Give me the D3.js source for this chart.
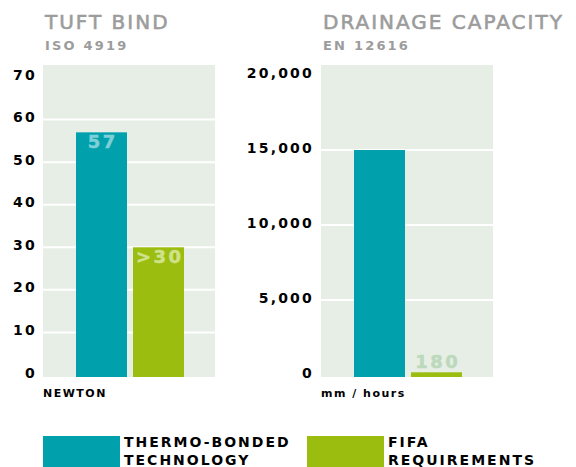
<!DOCTYPE html>
<html>
<head>
<meta charset="utf-8">
<script src="https://cdn.jsdelivr.net/npm/d3@7"></script>
<style>
  body { margin: 0; background: #fff; }
  svg { display: block; font-family: "DejaVu Sans", sans-serif; }
</style>
</head>
<body>
<script>
// Data
const seriesNames = ["THERMO-BONDED TECHNOLOGY", "FIFA REQUIREMENTS"];
const titles = ["TUFT BIND", "DRAINAGE CAPACITY"];
const standards = ["ISO 4919", "EN 12616"];
const units = ["NEWTON", "mm / hours"];
const tuftValues = [57, 30];
const tuftLabels = ["57", ">30"];
const tuftTicks = [0, 10, 20, 30, 40, 50, 60, 70];
const drainValues = [15000, 180];
const drainLabels = [null, "180"];
const drainTicks = [0, 5000, 10000, 15000, 20000];

//   Parameters
const w = 576;
const h = 467;
const colors = ["#00a0ad", "#9bbd10"];
const labelColors = ["#7fcfd6", "#cfe28b"];

const svg = d3
  .select("body")
  .append("svg")
  .attr("width", w)
  .attr("height", h);

const panels = [
  {
    title: titles[0],
    standard: standards[0],
    unit: units[0],
    values: tuftValues,
    labels: tuftLabels,
    ticks: tuftTicks,
    fmt: d3.format("d"),
    bars: [76, 184],
    top: 77,
    axisX: 37,
  },
  {
    title: titles[1],
    standard: standards[1],
    unit: units[1],
    values: drainValues,
    labels: drainLabels,
    ticks: drainTicks,
    fmt: d3.format(","),
    bars: [354, 462],
    top: 75,
    axisX: 314,
  },
];

const baseY = 375;
const panelTop = 65;
const panelBottom = 377;

panels.forEach((p) => {
  const g = svg.append("g");

  const xScale = d3
    .scaleBand()
    .domain(seriesNames)
    .range(p.bars)
    .paddingInner(6 / 57);

  const yScale = d3
    .scaleLinear()
    .domain([0, d3.max(p.ticks)])
    .range([baseY, p.top]);

  const left = p.bars[0] - 33;
  const right = p.bars[1] + 31;

  //   Titles
  g.append("text")
    .attr("x", left + 2)
    .attr("y", 29)
    .attr("fill", "#9c9c9c")
    .attr("stroke", "#9c9c9c")
    .attr("stroke-width", 0.6)
    .attr("font-size", 20)
    .attr("letter-spacing", 2)
    .text(p.title);

  g.append("text")
    .attr("x", left + 2)
    .attr("y", 50)
    .attr("fill", "#9c9c9c")
    .attr("font-size", 13)
    .attr("font-weight", "bold")
    .attr("letter-spacing", 2.2)
    .text(p.standard);

  //   Background
  g.append("rect")
    .attr("x", left)
    .attr("y", panelTop)
    .attr("width", right - left)
    .attr("height", panelBottom - panelTop)
    .attr("fill", "#e7eee6");

  //   Grid
  g.selectAll(".grid")
    .data(p.ticks.slice(1, -1))
    .enter()
    .append("line")
    .attr("x1", left)
    .attr("x2", right)
    .attr("y1", (d) => yScale(d))
    .attr("y2", (d) => yScale(d))
    .attr("stroke", "#fff")
    .attr("stroke-width", 2);

  //   Axis
  const axis = g
    .append("g")
    .attr("transform", "translate(" + p.axisX + ",0)")
    .call(
      d3.axisLeft(yScale).tickValues(p.ticks).tickSize(0).tickPadding(0).tickFormat(p.fmt)
    );
  axis.select(".domain").remove();
  axis
    .selectAll("text")
    .attr("dy", "0.15em")
    .attr("fill", "#000")
    .attr("font-family", "DejaVu Sans, sans-serif")
    .attr("font-size", 14)
    .attr("font-weight", "bold")
    .attr("letter-spacing", 2.2);

  const items = p.values.map((v, i) => ({
    name: seriesNames[i],
    value: v,
    label: p.labels[i],
    i: i,
  }));

  //   Bars
  g.selectAll(".bar")
    .data(items)
    .enter()
    .append("rect")
    .attr("x", (d) => xScale(d.name))
    .attr("y", (d) => yScale(d.value))
    .attr("width", xScale.bandwidth())
    .attr("height", (d) => panelBottom - yScale(d.value))
    .attr("fill", (d) => colors[d.i]);

  //   Value labels
  g.selectAll(".val")
    .data(items.filter((d) => d.label != null))
    .enter()
    .append("text")
    .attr("x", (d) => xScale(d.name) + xScale.bandwidth() / 2 + 1.2)
    .attr("y", (d) =>
      baseY - yScale(d.value) > 30 ? yScale(d.value) + 15.5 : yScale(d.value) - 4
    )
    .attr("text-anchor", "middle")
    .attr("fill", (d) =>
      baseY - yScale(d.value) > 30 ? labelColors[d.i] : "#bcd9bc"
    )
    .attr("stroke", (d) =>
      baseY - yScale(d.value) > 30 ? labelColors[d.i] : "#bcd9bc"
    )
    .attr("stroke-width", 0.5)
    .attr("font-size", 18)
    .attr("font-weight", "bold")
    .attr("letter-spacing", 2.4)
    .text((d) => d.label);

  //   Unit
  g.append("text")
    .attr("x", left)
    .attr("y", 397)
    .attr("font-size", 11)
    .attr("font-weight", "bold")
    .attr("letter-spacing", 1.5)
    .text(p.unit);
});

//   Legend
const legendX = [43, 307];
const legend = svg
  .selectAll(".legend")
  .data(seriesNames)
  .enter()
  .append("g")
  .attr("transform", (d, i) => "translate(" + legendX[i] + ",436)");

legend
  .append("rect")
  .attr("width", 77)
  .attr("height", 40)
  .attr("fill", (d, i) => colors[i]);

legend
  .append("text")
  .attr("x", 81)
  .attr("y", 11)
  .attr("font-size", 14)
  .attr("font-weight", "bold")
  .attr("letter-spacing", 2)
  .selectAll("tspan")
  .data((d) => d.split(" "))
  .enter()
  .append("tspan")
  .attr("x", 81)
  .attr("dy", (d, i) => (i === 0 ? 0 : 18))
  .text((d) => d);
</script>
</body>
</html>
